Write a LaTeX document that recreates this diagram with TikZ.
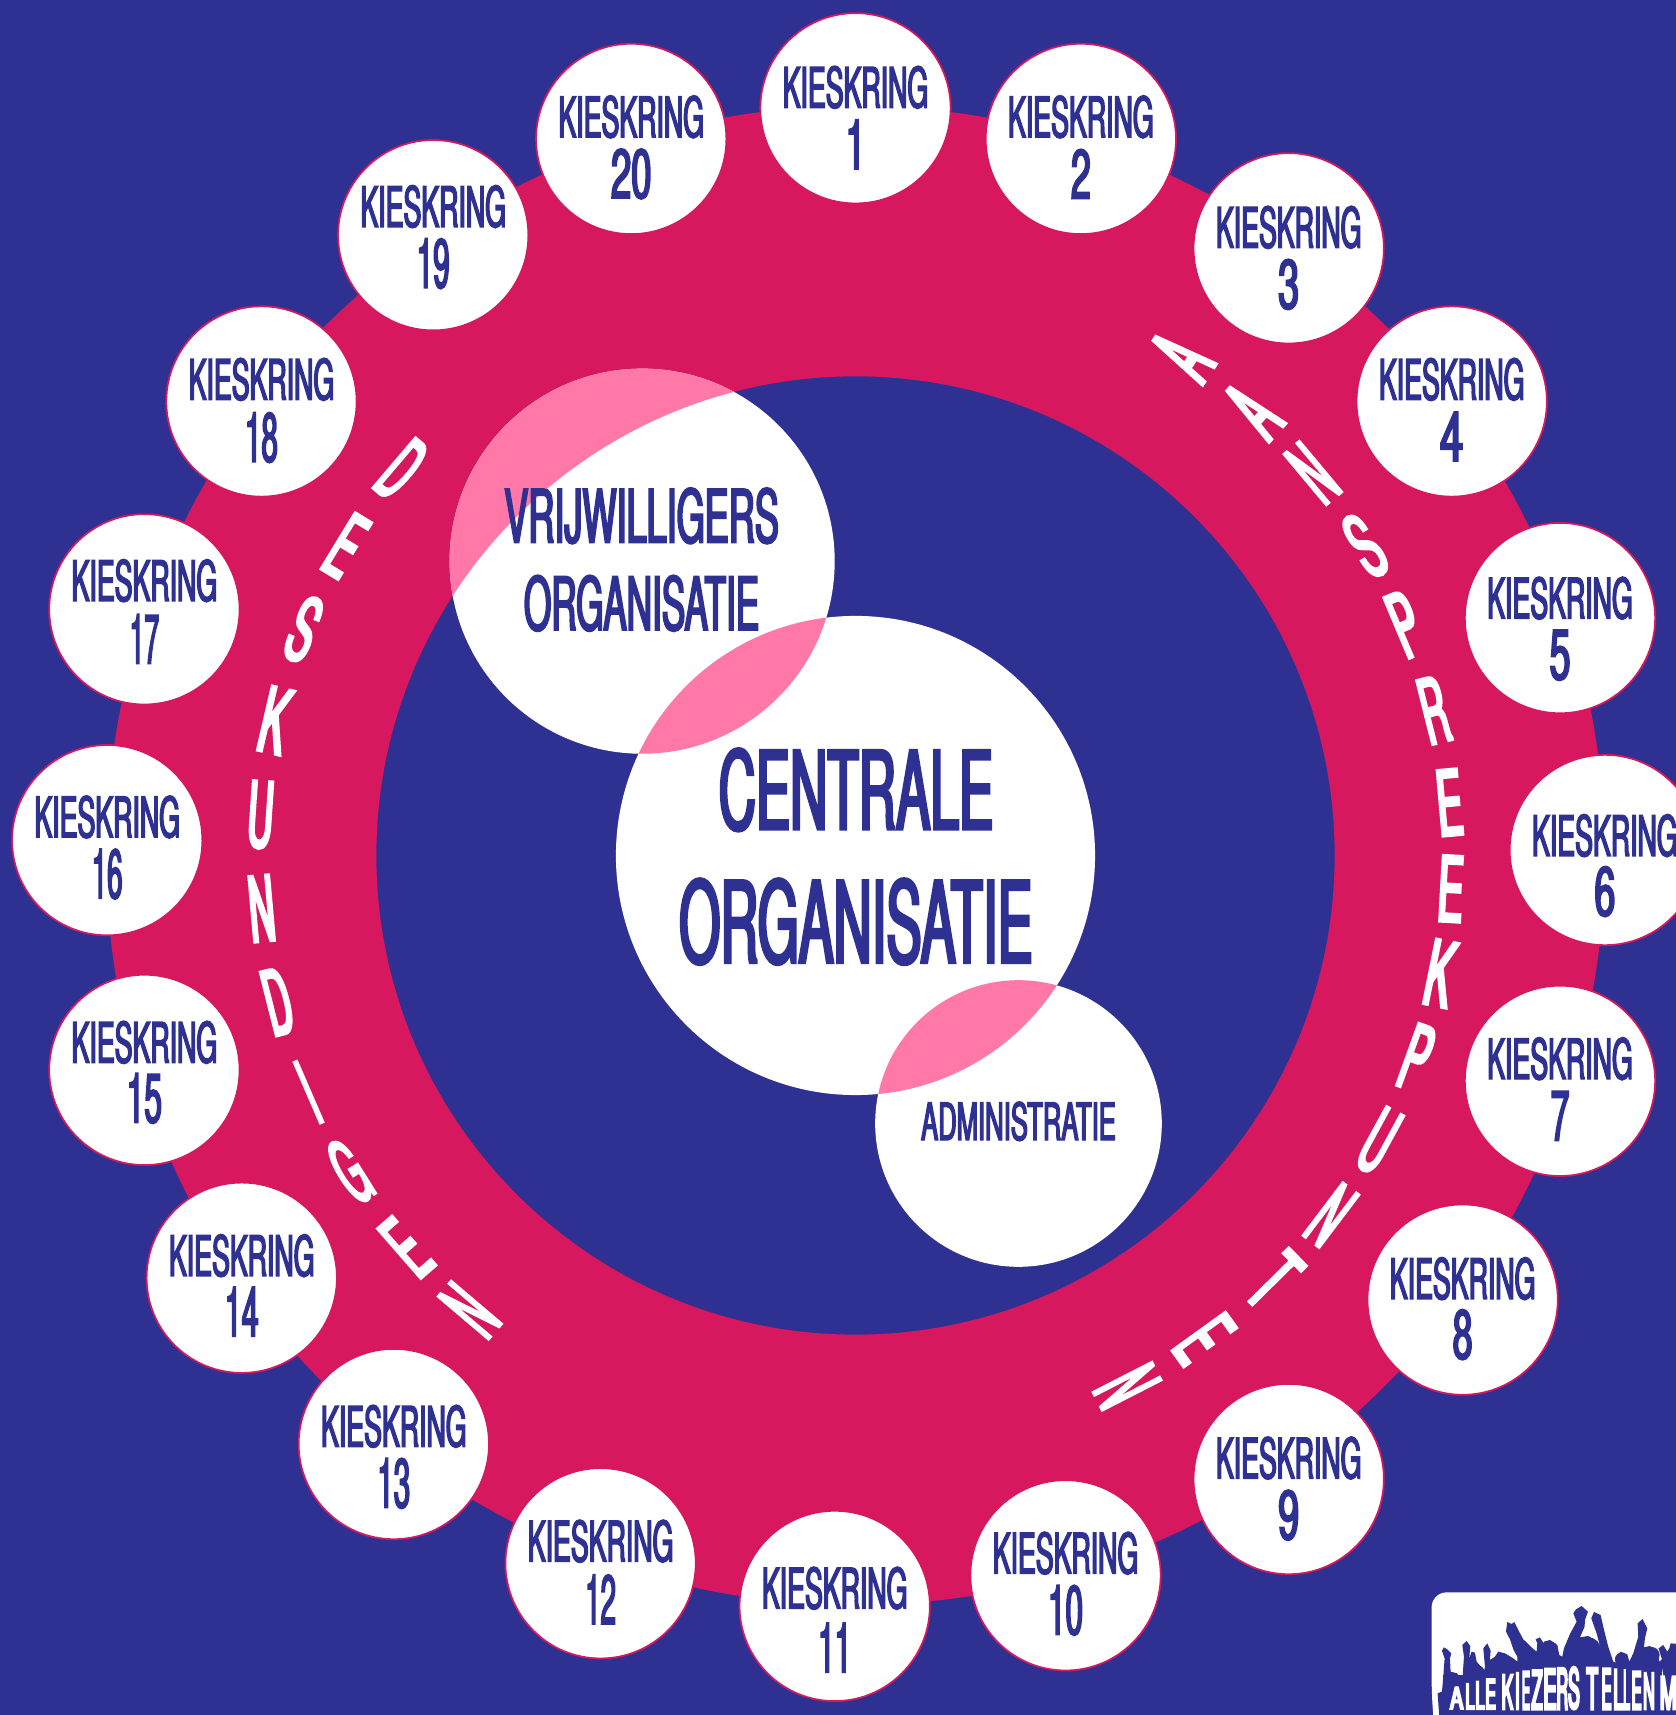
\documentclass[tikz,border=0pt]{standalone}
\usepackage{fontspec}
\usepackage{graphicx}
\setmainfont{TeX Gyre Heros}
\newfontfamily\kfont[FakeStretch=0.45,FakeBold=2.5]{TeX Gyre Heros}
\newfontfamily\lfont[FakeStretch=0.42,FakeBold=3.5]{TeX Gyre Heros}
\newfontfamily\gfont[FakeStretch=0.6,FakeBold=6]{TeX Gyre Heros}
\definecolor{bgblue}{RGB}{46,49,145}
\definecolor{ringpink}{RGB}{215,23,94}
\definecolor{softpink}{RGB}{255,120,168}
\newdimen\uu \uu=.5pt
\newdimen\zz \zz=.15235pt
\newcommand{\fitu}[3]{\resizebox{#1\uu}{#2\uu}{\kfont #3}}
\newcommand{\fitz}[3]{\resizebox{#1\zz}{#2\zz}{\gfont #3}}
\newcommand{\fitl}[2]{\resizebox{#2\uu}{60\uu}{\lfont #1}}
\tikzset{
  x=.5pt,y=-.5pt,
  txt/.style={inner sep=0,outer sep=0,text=bgblue},
  ltr/.style={inner sep=0,outer sep=0,text=white},
  kring/.style={circle,fill=white,draw=ringpink,line width=.8pt,minimum size=174\uu,inner sep=0}
}
\begin{document}
\begin{tikzpicture}
\clip (0,0) rectangle (1532,1567.7);
\fill[bgblue] (0,0) rectangle (1532,1567.7);
% ring
\fill[ringpink,even odd rule] (782,782) circle (685) (782,782) circle (438);
% three white circles
\node[circle,fill=white,minimum size=438\uu,inner sep=0] (central) at (782,782) {};
\node[circle,fill=white,minimum size=352\uu,inner sep=0] (vrij) at (587,513) {};
\node[circle,fill=white,minimum size=262\uu,inner sep=0] (admin) at (931,1027) {};
% overlaps
\begin{scope}
\clip (587,513) circle (176);
\fill[softpink,even odd rule] (782,782) circle (685) (782,782) circle (438);
\fill[softpink] (782,782) circle (219);
\end{scope}
\begin{scope}
\clip (931,1027) circle (131);
\fill[softpink] (782,782) circle (219);
\end{scope}
% labels of the three circles
\node[txt] (t1) at (782.5,722) {\fitu{251}{74}{CENTRALE}};
\node[txt] (t2) at (782.5,842.5) {\fitu{323}{77}{ORGANISATIE}};
\node[txt] (t3) at (586.5,471.5) {\fitu{251}{50}{VRIJWILLIGERS}};
\node[txt] (t4) at (586.5,551.5) {\fitu{215}{50}{ORGANISATIE}};
\node[txt] (t5) at (931,1025) {\fitu{178}{35}{ADMINISTRATIE}};
% districts
\foreach \n/\cx/\cy/\ty/\dy/\dw in {
 1/782/99/81/133/18, 2/988/127/108/160/18, 3/1178/227/209/261/19, 4/1327/367/348/400/21,
 5/1426/565/548/600/19, 6/1467/777/765/816/19, 7/1426/988/969/1021/17, 8/1337/1188/1170/1221/18,
 9/1178/1352/1334/1386/19, 10/974/1440/1421/1473/32, 11/763/1468/1453/1507/30, 12/549/1429/1410/1463/28,
 13/360/1320/1305/1357/30, 14/221/1168/1149/1200/31, 15/132/978/954/1005/32, 16/98/768/748/800/28,
 17/132/557/532/585/27, 18/239/367/348/401/30, 19/396/215/190/242/30, 20/577/127/108/160/37}{
  \node[kring] (c\n) at (\cx,\cy) {};
  \node[txt,yshift=.6pt] (w\n) at (\cx,\ty) {\fitu{133}{38}{KIESKRING}};
  \node[txt,yshift=.5pt] (d\n) at (\cx,\dy) {\fitu{\dw}{45}{\n}};
}
% curved words, letters stacked along the ring
\begin{scope}[shift={(782,782)}]
\foreach \ch/\a/\w [count=\i] in {A/56.8/24,A/48.2/24,N/39.9/23,S/31.3/23,P/22.8/23,R/14.1/23,E/5.1/23,E/-3.2/23,K/-11.4/24,P/-19.8/23,U/-28.6/23,N/-37.1/23,T/-45.4/24,E/-54.2/23,N/-62.9/23}{
  \node[ltr,rotate=\a] (p\i) at ({-\a}:545) {\fitl{\ch}{\w}};
}
\foreach \ch/\a/\w [count=\i] in {D/-40.4/23,E/-31.3/23,S/-22.3/23,K/-13.1/24,U/-3.9/23,N/5.1/23,D/14.2/23,I/23.4/8,G/32/23,E/41.1/23,N/49.7/23}{
  \node[ltr,rotate=\a] (q\i) at ({180-\a}:545) {\fitl{\ch}{\w}};
}
\end{scope}
% logo
\begin{scope}[shift={(1279.7,1426)},x=.3047*.5pt,y=-.3047*.5pt]
\fill[white,rounded corners=45*\zz] (95,400) -- (95,97) -- (900,97) -- (900,600) -- (110,600) -- cycle;
\fill[bgblue] (118,470) -- (113,400) -- (126,395) -- (130,350) -- (134,295) -- (126,272) -- (132,262) -- (142,268) -- (154,280) -- (150,295) -- (152,335) -- (172,340) -- (182,362) -- (188,350) -- (192,290) -- (187,255) -- (200,243) -- (211,258) -- (208,295) -- (215,275) -- (225,278) -- (230,305) -- (245,322) -- (252,335) -- (255,320) -- (250,265) -- (262,250) -- (272,272) -- (270,300) -- (285,290) -- (295,275) -- (315,280) -- (340,295) -- (352,305) -- (352,290) -- (340,268) -- (330,238) -- (318,215) -- (322,186) -- (335,192) -- (343,186) -- (356,212) -- (370,238) -- (398,265) -- (410,275) -- (412,250) -- (407,238) -- (420,232) -- (431,250) -- (432,245) -- (450,240) -- (472,255) -- (478,285) -- (487,290) -- (492,265) -- (510,222) -- (530,185) -- (520,160) -- (528,148) -- (545,138) -- (564,155) -- (555,180) -- (554,200) -- (540,232) -- (565,228) -- (585,240) -- (600,258) -- (590,220) -- (574,175) -- (582,156) -- (602,165) -- (610,200) -- (625,260) -- (640,305) -- (648,308) -- (648,290) -- (662,275) -- (682,283) -- (688,305) -- (700,280) -- (715,230) -- (713,190) -- (728,177) -- (742,205) -- (735,235) -- (732,262) -- (750,258) -- (772,272) -- (778,305) -- (786,298) -- (776,265) -- (790,255) -- (802,275) -- (808,265) -- (812,250) -- (835,252) -- (835,470) -- cycle;
\fill[bgblue] (450,268) circle (24) (565,270) circle (38) (665,298) circle (20) (755,285) circle (24) (310,310) circle (28) (155,362) circle (22) (235,335) circle (18);
\fill[bgblue] (128,345) rectangle (835,470);
\foreach \ch/\mx/\w/\top [count=\i] in {A/170/40/382,L/210/28/372,L/240/28/365,E/272/32/358,K/322/34/345,I/352/14/340,E/378/25/336,Z/411/33/332,E/450/40/328,R/487/35/326,S/522/35/325,T/577/35/325,E/620/30/327,L/655/30/330,L/680/20/332,E/710/30/336,N/747/35/340,M/805/50/350}{
  \pgfmathsetmacro{\hh}{447-\top}
  \node[inner sep=0,outer sep=0,text=white,anchor=south] (lg\i) at (\mx,447) {\fitz{\w}{\hh}{\ch}};
}
\end{scope}
\end{tikzpicture}
\end{document}
